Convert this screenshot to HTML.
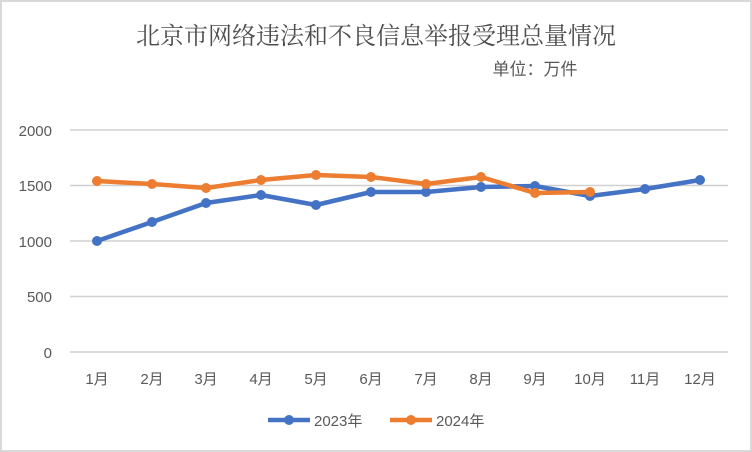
<!DOCTYPE html>
<html><head><meta charset="utf-8"><style>
html,body{margin:0;padding:0;background:#fff;}
</style></head><body>
<svg width="752" height="452" xmlns="http://www.w3.org/2000/svg" style="display:block">
<rect x="1" y="1" width="750" height="450" fill="#fff" stroke="#d9d9d9" stroke-width="2"/>
<text x="376" y="44" text-anchor="middle" font-family="'Liberation Serif','Noto Serif CJK SC',serif" font-size="24" fill="#4d4d4d">北京市网络违法和不良信息举报受理总量情况</text>
<text x="535" y="75" text-anchor="middle" font-family="'Liberation Sans','Noto Sans CJK SC',sans-serif" font-size="17" fill="#595959">单位：万件</text>
<g stroke="#d0d0d0" stroke-width="1.5">
<line x1="70" y1="130" x2="728" y2="130"/>
<line x1="70" y1="185.5" x2="728" y2="185.5"/>
<line x1="70" y1="241" x2="728" y2="241"/>
<line x1="70" y1="296.5" x2="728" y2="296.5"/>
<line x1="70" y1="352" x2="728" y2="352"/>
</g>
<g font-family="'Liberation Sans','Noto Sans CJK SC',sans-serif" font-size="15" fill="#595959" text-anchor="end">
<text x="52" y="136">2000</text><text x="52" y="191">1500</text><text x="52" y="247">1000</text><text x="52" y="302">500</text><text x="52" y="358">0</text>
</g>
<g font-family="'Liberation Sans','Noto Sans CJK SC',sans-serif" font-size="15" fill="#595959" text-anchor="middle">
<text x="97" y="384">1月</text><text x="152" y="384">2月</text><text x="206" y="384">3月</text><text x="261" y="384">4月</text><text x="316" y="384">5月</text><text x="371" y="384">6月</text><text x="426" y="384">7月</text><text x="481" y="384">8月</text><text x="535" y="384">9月</text><text x="590" y="384">10月</text><text x="645" y="384">11月</text><text x="700" y="384">12月</text>
</g>
<polyline fill="none" stroke="#4472c4" stroke-width="4.5" stroke-linejoin="round" points="97,241 152,222 206,203 261,195 316,205 371,192 426,192 481,187 535,186 590,196 645,189 700,180"/>
<g fill="#4472c4">
<circle cx="97" cy="241" r="5"/><circle cx="152" cy="222" r="5"/><circle cx="206" cy="203" r="5"/><circle cx="261" cy="195" r="5"/><circle cx="316" cy="205" r="5"/><circle cx="371" cy="192" r="5"/><circle cx="426" cy="192" r="5"/><circle cx="481" cy="187" r="5"/><circle cx="535" cy="186" r="5"/><circle cx="590" cy="196" r="5"/><circle cx="645" cy="189" r="5"/><circle cx="700" cy="180" r="5"/>
</g>
<polyline fill="none" stroke="#ed7d31" stroke-width="4.5" stroke-linejoin="round" points="97,181 152,184 206,188 261,180 316,175 371,177 426,184 481,177 535,193 590,192"/>
<g fill="#ed7d31">
<circle cx="97" cy="181" r="5"/><circle cx="152" cy="184" r="5"/><circle cx="206" cy="188" r="5"/><circle cx="261" cy="180" r="5"/><circle cx="316" cy="175" r="5"/><circle cx="371" cy="177" r="5"/><circle cx="426" cy="184" r="5"/><circle cx="481" cy="177" r="5"/><circle cx="535" cy="193" r="5"/><circle cx="590" cy="192" r="5"/>
</g>
<line x1="268" y1="420" x2="310" y2="420" stroke="#4472c4" stroke-width="4.5"/><circle cx="289" cy="420" r="5" fill="#4472c4"/>
<text x="314" y="426" font-family="'Liberation Sans','Noto Sans CJK SC',sans-serif" font-size="15" fill="#595959">2023年</text>
<line x1="390" y1="420" x2="432" y2="420" stroke="#ed7d31" stroke-width="4.5"/><circle cx="411" cy="420" r="5" fill="#ed7d31"/>
<text x="436" y="426" font-family="'Liberation Sans','Noto Sans CJK SC',sans-serif" font-size="15" fill="#595959">2024年</text>
</svg>
</body></html>
